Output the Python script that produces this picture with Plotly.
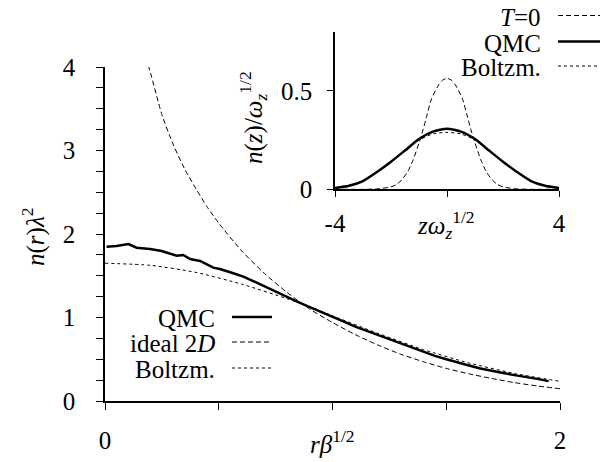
import plotly.graph_objects as go

# ---------------- main panel data ----------------
r_qmc = [0.007, 0.051, 0.103, 0.139, 0.198, 0.249, 0.315, 0.344, 0.374, 0.418,
         0.476, 0.505, 0.564, 0.608, 0.681, 0.74, 0.828, 0.887, 0.95, 1.0,
         1.05, 1.1, 1.15, 1.2, 1.25, 1.3, 1.35, 1.4, 1.45, 1.5, 1.55, 1.6,
         1.65, 1.7, 1.75, 1.8, 1.85, 1.9, 1.95]
n_qmc = [1.848, 1.856, 1.88, 1.836, 1.82, 1.796, 1.74, 1.748, 1.70, 1.677,
         1.597, 1.58, 1.53, 1.49, 1.40, 1.32, 1.21, 1.14, 1.07, 1.01,
         0.95, 0.89, 0.84, 0.79, 0.735, 0.685, 0.635, 0.585, 0.54, 0.50, 0.46, 0.425,
         0.39, 0.36, 0.335, 0.31, 0.29, 0.265, 0.238]

r_ideal = [0.19, 0.2, 0.25, 0.3, 0.35, 0.4, 0.45, 0.5, 0.6, 0.7, 0.8, 0.9, 1.0,
           1.1, 1.2, 1.3, 1.4, 1.5, 1.6, 1.7, 1.8, 1.9, 2.0]
n_ideal = [4.02, 3.93, 3.43, 3.07, 2.78, 2.54, 2.32, 2.13, 1.80, 1.53, 1.30, 1.10,
           0.94, 0.795, 0.67, 0.56, 0.47, 0.39, 0.325, 0.27, 0.22, 0.18, 0.147]

r_boltz = [0.0, 0.2, 0.4, 0.6, 0.8, 0.9, 1.0, 1.2, 1.4, 1.6, 1.8, 2.0]
n_boltz = [1.65, 1.625, 1.54, 1.40, 1.225, 1.13, 1.02, 0.81, 0.615, 0.455, 0.33, 0.235]

main_xticks = [0, 0.5, 1, 1.5, 2]
main_xticktext = ["0", "", "", "", "2"]
main_yticks = [0, 1, 2, 3, 4]

# ---------------- inset data ----------------
z_t0 = [-4, -3, -2.5, -2.0, -1.8, -1.62, -1.4, -1.21, -1.0, -0.85, -0.7, -0.55,
        -0.3, -0.15, 0, 0.15, 0.3, 0.55, 0.7, 0.85, 1.0, 1.21, 1.4, 1.62, 1.8,
        2.0, 2.5, 3, 4]
n_t0 = [0, 0, 0.002, 0.012, 0.025, 0.047, 0.09, 0.149, 0.235, 0.305, 0.385, 0.46,
        0.53, 0.555, 0.563, 0.555, 0.53, 0.46, 0.385, 0.305, 0.235, 0.149, 0.09,
        0.047, 0.025, 0.012, 0.002, 0, 0]

z_qmc = [-4, -3.5, -3.0, -2.5, -2.0, -1.5, -1.0, -0.5, 0, 0.5, 1.0, 1.5, 2.0,
         2.5, 3.0, 3.5, 4]
nz_qmc = [0.007, 0.018, 0.042, 0.088, 0.140, 0.197, 0.255, 0.293, 0.307, 0.293,
          0.255, 0.197, 0.140, 0.088, 0.042, 0.018, 0.007]

z_boltz = [-4, -3.5, -3.0, -2.5, -2.0, -1.5, -1.0, -0.5, 0, 0.5, 1.0, 1.5, 2.0,
           2.5, 3.0, 3.5, 4]
nz_boltz = [0.007, 0.018, 0.043, 0.088, 0.140, 0.195, 0.250, 0.281, 0.289, 0.281,
            0.250, 0.195, 0.140, 0.088, 0.043, 0.018, 0.007]

inset_xticks = [-4, 0, 4]
inset_xticktext = ["-4", "", "4"]
inset_yticks = [0, 0.5]

# ---------------- styles ----------------
FONT = "Liberation Serif"
W, H = 600, 462
DASH_LONG = "5px,3px"
DASH_SHORT = "3px,3px"
FS = 25


def px2x(p):
    return p / W


def py2y(p):
    return 1 - p / H


fig = go.Figure()

fig.add_trace(go.Scatter(x=r_ideal, y=n_ideal, mode="lines",
                         line=dict(color="black", width=1, dash=DASH_LONG, shape="spline", smoothing=0.6),
                         xaxis="x", yaxis="y", showlegend=False, hoverinfo="skip"))
fig.add_trace(go.Scatter(x=r_boltz, y=n_boltz, mode="lines",
                         line=dict(color="black", width=1, dash=DASH_SHORT, shape="spline", smoothing=0.6),
                         xaxis="x", yaxis="y", showlegend=False, hoverinfo="skip"))
fig.add_trace(go.Scatter(x=r_qmc, y=n_qmc, mode="lines", line=dict(color="black", width=2.5),
                         xaxis="x", yaxis="y", showlegend=False, hoverinfo="skip"))

fig.add_trace(go.Scatter(x=z_t0, y=n_t0, mode="lines",
                         line=dict(color="black", width=1, dash=DASH_LONG, shape="spline", smoothing=0.6),
                         xaxis="x2", yaxis="y2", showlegend=False, hoverinfo="skip"))
fig.add_trace(go.Scatter(x=z_boltz, y=nz_boltz, mode="lines",
                         line=dict(color="black", width=1, dash=DASH_SHORT, shape="spline", smoothing=0.6),
                         xaxis="x2", yaxis="y2", showlegend=False, hoverinfo="skip"))
fig.add_trace(go.Scatter(x=z_qmc, y=nz_qmc, mode="lines",
                         line=dict(color="black", width=2.5, shape="spline", smoothing=0.6),
                         xaxis="x2", yaxis="y2", showlegend=False, hoverinfo="skip"))

tickfont = dict(family=FONT, size=FS, color="black")
axis_common = dict(ticks="outside", tickwidth=1, tickcolor="black", showline=True, linecolor="black",
                   linewidth=1.5, showgrid=False, zeroline=False, tickfont=tickfont, automargin=False,
                   fixedrange=True)

fig.update_layout(
    width=W, height=H,
    margin=dict(l=0, r=0, t=0, b=0, pad=0, autoexpand=False),
    paper_bgcolor="white", plot_bgcolor="rgba(0,0,0,0)",
    font=dict(family=FONT, size=FS, color="black"),
    xaxis=dict(domain=[px2x(105), px2x(560)], range=[0, 2], tickvals=main_xticks, ticktext=main_xticktext,
               ticklen=7, ticklabelstandoff=9, anchor="y", **axis_common),
    yaxis=dict(domain=[py2y(401), py2y(67)], range=[0, 4], tickvals=main_yticks,
               ticklen=7, ticklabelstandoff=16,
               minor=dict(dtick=0.25, ticks="outside", ticklen=7, tickwidth=1, tickcolor="black", showgrid=False),
               anchor="x", **axis_common),
    xaxis2=dict(domain=[px2x(335), px2x(559)], range=[-4, 4], tickvals=inset_xticks, ticktext=inset_xticktext,
                ticklen=6, ticklabelstandoff=5, anchor="y2", **axis_common),
    yaxis2=dict(domain=[py2y(189.3), py2y(31.7)], range=[0, 0.8], tickvals=inset_yticks,
                ticklen=6, ticklabelstandoff=10, anchor="x2", **axis_common),
)

# axis titles
fig.add_annotation(text="<i>rβ</i><sup>1/2</sup>", x=px2x(332), y=py2y(442), xref="paper", yref="paper",
                   showarrow=False, font=dict(family=FONT, size=FS, color="black"), xanchor="center", yanchor="middle")
fig.add_annotation(text="<i>n</i>(<i>r</i>)<i>λ</i><sup>2</sup>", x=px2x(33), y=py2y(237), xref="paper",
                   yref="paper", showarrow=False, font=dict(family=FONT, size=FS, color="black"), textangle=-90,
                   xanchor="center", yanchor="middle")
fig.add_annotation(text="<i>zω</i><sub><i>z</i></sub><sup>1/2</sup>", x=px2x(446), y=py2y(225), xref="paper",
                   yref="paper", showarrow=False, font=dict(family=FONT, size=FS, color="black"), xanchor="center",
                   yanchor="middle")
fig.add_annotation(text="<i>n</i>(<i>z</i>)/<i>ω</i><sub><i>z</i></sub><sup>1/2</sup>", x=px2x(253),
                   y=py2y(118), xref="paper", yref="paper", showarrow=False,
                   font=dict(family=FONT, size=FS, color="black"), textangle=-90, xanchor="center", yanchor="middle")

# main legend
main_leg = [("QMC", 2.5, None), ("ideal 2<i>D</i>", 1, DASH_LONG), ("Boltzm.", 1, DASH_SHORT)]
main_rows = [317, 342, 368]
for (txt, wdt, dsh), row in zip(main_leg, main_rows):
    fig.add_annotation(text=txt, x=px2x(217), y=py2y(row + 1), xref="paper", yref="paper", showarrow=False,
                       font=dict(family=FONT, size=FS, color="black"), xanchor="right", yanchor="middle")
    line = dict(color="black", width=wdt)
    if dsh:
        line["dash"] = dsh
    fig.add_shape(type="line", xref="paper", yref="paper", x0=px2x(232), x1=px2x(272),
                  y0=py2y(row), y1=py2y(row), line=line)

# inset legend
inset_leg = [("<i>T</i>=0", 1, DASH_LONG), ("QMC", 2.5, None), ("Boltzm.", 1, DASH_SHORT)]
inset_rows = [15.5, 41.5, 66]
for (txt, wdt, dsh), row in zip(inset_leg, inset_rows):
    fig.add_annotation(text=txt, x=px2x(543), y=py2y(row + 1.5), xref="paper", yref="paper", showarrow=False,
                       font=dict(family=FONT, size=FS, color="black"), xanchor="right", yanchor="middle")
    line = dict(color="black", width=wdt)
    if dsh:
        line["dash"] = dsh
    fig.add_shape(type="line", xref="paper", yref="paper", x0=px2x(558), x1=px2x(600),
                  y0=py2y(row), y1=py2y(row), line=line)

fig.write_html("out.html", config={"displayModeBar": False},
               post_script="document.body.style.margin='0px';")
